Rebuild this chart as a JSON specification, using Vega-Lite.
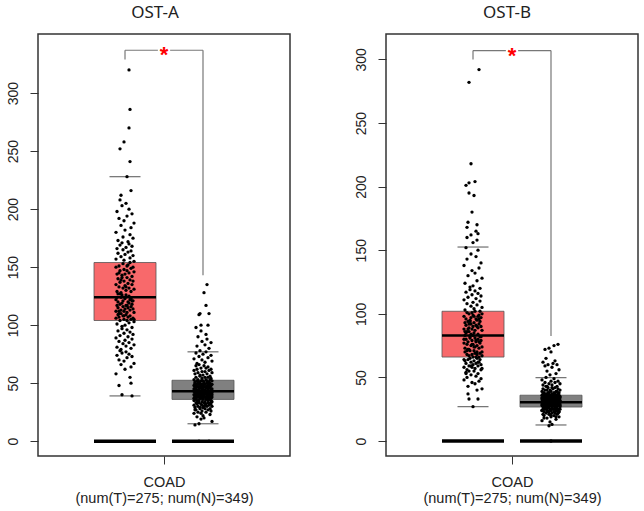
{
  "$schema": "https://vega.github.io/schema/vega-lite/v6.json",
  "padding": {"left": 5, "top": 3, "right": 5, "bottom": 5},
  "spacing": 62,
  "config": {
    "view": {"stroke": "#333333", "strokeWidth": 1.5},
    "font": "Liberation Sans",
    "title": {"font": "Noto Sans", "fontSize": 17, "fontWeight": "normal", "color": "#222222", "frame": "group", "offset": 12},
    "tick": {"opacity": 1},
    "axis": {"grid": false, "domain": false, "tickColor": "#333333", "tickSize": 8, "labelColor": "#222222", "labelFontSize": 14, "labelFont": "Liberation Sans", "titleFont": "Liberation Sans", "titleColor": "#222222"}
  },
  "datasets": {
    "boxA": [
      {"g": "T", "lo": 39, "q1": 104, "med": 124, "q3": 154, "hi": 228},
      {"g": "N", "lo": 15, "q1": 36, "med": 43, "q3": 52.5, "hi": 77}
    ],
    "boxB": [
      {"g": "T", "lo": 27, "q1": 66, "med": 83, "q3": 102, "hi": 152.5},
      {"g": "N", "lo": 12.6, "q1": 26.7, "med": 30.5, "q3": 36, "hi": 49.8}
    ],
    "sigA": [{"from": "T", "to": "N", "top": 337, "tT": 329, "tN": 143}],
    "sigB": [{"from": "T", "to": "N", "top": 307, "tT": 300, "tN": 82.5}],
    "aT": [
      {"j":7,"v":39},{"j":-3,"v":40},{"j":-6,"v":48},{"j":6,"v":50},{"j":5,"v":55},{"j":-9,"v":58},{"j":0,"v":62},{"j":6,"v":64},{"j":-4,"v":66},{"j":9,"v":67},
      {"j":-1,"v":69},{"j":-6,"v":70},{"j":2,"v":72},{"j":7,"v":73},{"j":-8,"v":74},{"j":4,"v":75},{"j":-3,"v":76},{"j":1,"v":77},{"j":-5,"v":78},{"j":-4,"v":79},
      {"j":6,"v":80},{"j":-8,"v":81},{"j":1,"v":82},{"j":9,"v":83},{"j":-2,"v":84},{"j":4,"v":85},{"j":-6,"v":86},{"j":0,"v":87},{"j":7,"v":88},{"j":-9,"v":89},
      {"j":3,"v":90},{"j":-5,"v":91},{"j":8,"v":92},{"j":-1,"v":93},{"j":5,"v":94},{"j":-7,"v":95},{"j":2,"v":96},{"j":-3,"v":97},{"j":7,"v":98},{"j":-3,"v":99},
      {"j":0,"v":100},{"j":-8,"v":101},{"j":4,"v":102},{"j":9,"v":103},{"j":-5,"v":104},
      {"j":2,"v":104},{"j":-1,"v":105},{"j":6,"v":105},{"j":-9,"v":106},{"j":8,"v":106},{"j":-6,"v":107},{"j":3,"v":107},{"j":-2,"v":108},{"j":5,"v":108},{"j":-7,"v":109},
      {"j":1,"v":109},{"j":-4,"v":110},{"j":-6,"v":110},{"j":2,"v":111},{"j":9,"v":111},{"j":-1,"v":112},{"j":-9,"v":112},{"j":5,"v":113},{"j":-4,"v":113},{"j":8,"v":114},
      {"j":0,"v":114},{"j":-7,"v":115},{"j":3,"v":115},{"j":6,"v":116},{"j":-2,"v":116},{"j":-8,"v":117},{"j":1,"v":117},{"j":7,"v":118},{"j":-5,"v":118},{"j":4,"v":119},
      {"j":-3,"v":119},{"j":3,"v":120},{"j":-7,"v":120},{"j":8,"v":121},{"j":-2,"v":121},{"j":5,"v":122},{"j":-9,"v":122},{"j":0,"v":123},{"j":6,"v":123},{"j":-4,"v":124},
      {"j":9,"v":105},{"j":-1,"v":108},{"j":-6,"v":112},{"j":2,"v":117},{"j":7,"v":121},
      {"j":-8,"v":124},{"j":4,"v":125},{"j":-3,"v":126},{"j":1,"v":126},{"j":-5,"v":127},{"j":-4,"v":128},{"j":6,"v":129},{"j":-8,"v":129},{"j":1,"v":130},{"j":9,"v":131},
      {"j":-2,"v":132},{"j":4,"v":132},{"j":-6,"v":133},{"j":0,"v":134},{"j":7,"v":135},{"j":-9,"v":135},{"j":3,"v":136},{"j":-5,"v":137},{"j":8,"v":138},{"j":-1,"v":138},
      {"j":5,"v":139},{"j":-7,"v":140},{"j":2,"v":141},{"j":-3,"v":141},{"j":7,"v":142},{"j":-3,"v":143},{"j":0,"v":144},{"j":-8,"v":144},{"j":4,"v":145},{"j":9,"v":146},
      {"j":-5,"v":147},{"j":2,"v":147},{"j":-1,"v":148},{"j":6,"v":149},{"j":-9,"v":150},{"j":8,"v":150},{"j":-6,"v":151},{"j":3,"v":152},{"j":-2,"v":153},{"j":5,"v":154},
      {"j":-7,"v":127},{"j":1,"v":133},{"j":-4,"v":139},{"j":-6,"v":145},{"j":2,"v":151},
      {"j":9,"v":155},{"j":-1,"v":156},{"j":-9,"v":157},{"j":5,"v":158},{"j":-4,"v":159},{"j":8,"v":160},{"j":0,"v":161},{"j":-7,"v":162},{"j":3,"v":163},{"j":6,"v":164},
      {"j":-2,"v":165},{"j":-8,"v":166},{"j":1,"v":167},{"j":7,"v":168},{"j":-5,"v":169},{"j":4,"v":170},{"j":-3,"v":171},{"j":3,"v":172},{"j":-7,"v":173},{"j":8,"v":175},
      {"j":-2,"v":176},{"j":5,"v":178},{"j":-9,"v":180},{"j":0,"v":182},{"j":6,"v":184},{"j":-4,"v":186},{"j":9,"v":188},{"j":-1,"v":190},{"j":-6,"v":192},{"j":2,"v":194},
      {"j":7,"v":196},{"j":-8,"v":198},{"j":4,"v":200},{"j":-3,"v":203},{"j":1,"v":205},{"j":-5,"v":208},{"j":-4,"v":212},{"j":6,"v":216},{"j":2,"v":228},
      {"j":5,"v":241},{"j":-5,"v":252},{"j":-1,"v":258},{"j":4,"v":270},{"j":5,"v":286},{"j":4,"v":320}
    ],
    "aN": [
      {"j":-4,"v":0},{"j":6,"v":0},{"j":-8,"v":14},{"j":-4,"v":15},{"j":9,"v":17},{"j":-2,"v":19},{"j":1,"v":20},{"j":-6,"v":21},{"j":0,"v":22},{"j":7,"v":23},
      {"j":-9,"v":24},{"j":3,"v":25},{"j":-5,"v":25},{"j":8,"v":26},{"j":-1,"v":26},{"j":5,"v":27},{"j":-7,"v":27},{"j":2,"v":28},{"j":-3,"v":28},{"j":7,"v":28},
      {"j":-3,"v":29},{"j":0,"v":29},{"j":-8,"v":29},{"j":4,"v":30},{"j":9,"v":30},{"j":-5,"v":30},{"j":2,"v":31},{"j":-1,"v":31},{"j":6,"v":31},{"j":-9,"v":31},
      {"j":8,"v":32},{"j":-6,"v":32},{"j":3,"v":32},{"j":-2,"v":32},{"j":5,"v":33},{"j":-7,"v":33},{"j":1,"v":33},{"j":-4,"v":33},{"j":-6,"v":34},{"j":2,"v":34},
      {"j":9,"v":34},{"j":-1,"v":34},{"j":-9,"v":35},{"j":5,"v":35},{"j":-4,"v":35},{"j":8,"v":35},{"j":0,"v":36},{"j":-7,"v":36},{"j":3,"v":36},{"j":6,"v":36},
      {"j":-2,"v":24},{"j":-8,"v":27},{"j":1,"v":30},{"j":7,"v":33},{"j":-5,"v":35},
      {"j":4,"v":37},{"j":-3,"v":37},{"j":3,"v":37},{"j":-7,"v":37},{"j":8,"v":37},{"j":-2,"v":37},{"j":5,"v":37},{"j":-9,"v":37},
      {"j":0,"v":38},{"j":6,"v":38},{"j":-4,"v":38},{"j":9,"v":38},{"j":-1,"v":38},{"j":-6,"v":38},{"j":2,"v":38},{"j":7,"v":38},
      {"j":-8,"v":39},{"j":4,"v":39},{"j":-3,"v":39},{"j":1,"v":39},{"j":-5,"v":39},{"j":-4,"v":39},{"j":6,"v":39},{"j":-8,"v":39},
      {"j":1,"v":40},{"j":9,"v":40},{"j":-2,"v":40},{"j":4,"v":40},{"j":-6,"v":40},{"j":0,"v":40},{"j":7,"v":40},{"j":-9,"v":40},
      {"j":3,"v":41},{"j":-5,"v":41},{"j":8,"v":41},{"j":-1,"v":41},{"j":5,"v":41},{"j":-7,"v":41},{"j":2,"v":41},{"j":-3,"v":41},
      {"j":7,"v":42},{"j":-3,"v":42},{"j":0,"v":42},{"j":-8,"v":42},{"j":4,"v":42},{"j":9,"v":42},{"j":-5,"v":42},{"j":2,"v":42},
      {"j":-1,"v":43},{"j":6,"v":43},{"j":-9,"v":43},{"j":8,"v":43},{"j":-6,"v":43},{"j":3,"v":43},{"j":-2,"v":43},
      {"j":5,"v":44},{"j":-7,"v":44},{"j":1,"v":44},{"j":-4,"v":44},{"j":-6,"v":44},{"j":2,"v":44},
      {"j":9,"v":45},{"j":-1,"v":45},{"j":-9,"v":45},{"j":5,"v":45},{"j":-4,"v":45},{"j":8,"v":45},
      {"j":0,"v":46},{"j":-7,"v":46},{"j":3,"v":46},{"j":6,"v":46},{"j":-2,"v":46},{"j":-8,"v":46},
      {"j":1,"v":47},{"j":7,"v":47},{"j":-5,"v":47},{"j":4,"v":47},{"j":-3,"v":47},{"j":3,"v":47},
      {"j":-7,"v":48},{"j":8,"v":48},{"j":-2,"v":48},{"j":5,"v":48},{"j":-9,"v":48},{"j":0,"v":48},
      {"j":6,"v":49},{"j":-4,"v":49},{"j":9,"v":49},{"j":-1,"v":49},{"j":-6,"v":49},{"j":2,"v":49},
      {"j":7,"v":50},{"j":-8,"v":50},{"j":4,"v":50},{"j":-3,"v":50},{"j":1,"v":50},
      {"j":-5,"v":51},{"j":-4,"v":51},{"j":6,"v":51},{"j":-8,"v":51},{"j":1,"v":51},
      {"j":9,"v":52},{"j":-2,"v":52},{"j":4,"v":52},{"j":-6,"v":52},{"j":0,"v":52},
      {"j":7,"v":53},{"j":-9,"v":53},{"j":3,"v":53},{"j":-5,"v":53},
      {"j":8,"v":54},{"j":-1,"v":54},{"j":5,"v":55},{"j":-7,"v":55},{"j":2,"v":55},{"j":-3,"v":56},{"j":7,"v":56},{"j":-3,"v":57},{"j":0,"v":57},{"j":-8,"v":58},
      {"j":4,"v":58},{"j":9,"v":59},{"j":-5,"v":59},{"j":2,"v":60},{"j":-1,"v":60},{"j":6,"v":61},{"j":-9,"v":61},{"j":8,"v":62},{"j":-6,"v":62},{"j":3,"v":63},
      {"j":-2,"v":63},{"j":5,"v":64},{"j":-7,"v":65},{"j":1,"v":65},{"j":-4,"v":66},{"j":-6,"v":67},{"j":2,"v":68},{"j":9,"v":69},{"j":-1,"v":70},{"j":-9,"v":71},
      {"j":5,"v":72},{"j":-4,"v":73},{"j":8,"v":74},{"j":0,"v":75},{"j":-7,"v":76},{"j":3,"v":77},
      {"j":-3,"v":78},{"j":6,"v":80},{"j":-6,"v":82},{"j":2,"v":83},{"j":8,"v":85},{"j":-1,"v":86},{"j":4,"v":88},{"j":-5,"v":90},{"j":3,"v":92},{"j":-2,"v":95},
      {"j":-7,"v":98},{"j":-2,"v":100},{"j":5,"v":100},{"j":-4,"v":109},{"j":6,"v":110},{"j":-3,"v":110},{"j":3,"v":117},{"j":1,"v":128},{"j":4,"v":135}
    ],
    "bT": [
      {"j":0,"v":27},{"j":-4,"v":33},{"j":5,"v":33},{"j":-5,"v":37},{"j":4,"v":40},{"j":9,"v":41},{"j":-5,"v":43},{"j":2,"v":45},{"j":-1,"v":46},{"j":6,"v":47},
      {"j":-9,"v":48},{"j":8,"v":49},{"j":-6,"v":50},{"j":3,"v":51},{"j":-2,"v":52},{"j":5,"v":53},{"j":-7,"v":54},{"j":1,"v":55},{"j":-4,"v":55},{"j":-6,"v":56},
      {"j":2,"v":57},{"j":9,"v":57},{"j":-1,"v":58},{"j":-9,"v":58},{"j":5,"v":59},{"j":-4,"v":59},{"j":8,"v":60},{"j":0,"v":60},{"j":-7,"v":61},{"j":3,"v":61},
      {"j":6,"v":62},{"j":-2,"v":62},{"j":-8,"v":63},{"j":1,"v":63},{"j":7,"v":64},{"j":-5,"v":64},{"j":4,"v":65},{"j":-3,"v":65},{"j":3,"v":66},{"j":-7,"v":53},
      {"j":8,"v":56},{"j":-2,"v":59},{"j":5,"v":62},{"j":-9,"v":64},{"j":0,"v":66},
      {"j":6,"v":66},{"j":-4,"v":67},{"j":9,"v":67},{"j":-1,"v":68},{"j":-6,"v":68},{"j":2,"v":69},{"j":7,"v":69},{"j":-8,"v":70},{"j":4,"v":70},{"j":-3,"v":71},
      {"j":1,"v":71},{"j":-5,"v":72},{"j":-4,"v":72},{"j":6,"v":73},{"j":-8,"v":73},{"j":1,"v":74},{"j":9,"v":74},{"j":-2,"v":75},{"j":4,"v":75},{"j":-6,"v":76},
      {"j":0,"v":76},{"j":7,"v":77},{"j":-9,"v":77},{"j":3,"v":78},{"j":-5,"v":78},{"j":8,"v":79},{"j":-1,"v":79},{"j":5,"v":80},{"j":-7,"v":80},{"j":2,"v":81},
      {"j":-3,"v":81},{"j":7,"v":82},{"j":-3,"v":82},{"j":0,"v":83},{"j":-8,"v":83},{"j":4,"v":68},{"j":9,"v":70},{"j":-5,"v":72},{"j":2,"v":74},{"j":-1,"v":76},
      {"j":6,"v":78},{"j":-9,"v":80},{"j":8,"v":82},{"j":-6,"v":71},{"j":3,"v":79},
      {"j":-2,"v":84},{"j":5,"v":84},{"j":-7,"v":85},{"j":1,"v":85},{"j":-4,"v":86},{"j":-6,"v":86},{"j":2,"v":87},{"j":9,"v":87},{"j":-1,"v":88},{"j":-9,"v":88},
      {"j":5,"v":89},{"j":-4,"v":89},{"j":8,"v":90},{"j":0,"v":90},{"j":-7,"v":91},{"j":3,"v":91},{"j":6,"v":92},{"j":-2,"v":92},{"j":-8,"v":93},{"j":1,"v":93},
      {"j":7,"v":94},{"j":-5,"v":94},{"j":4,"v":95},{"j":-3,"v":95},{"j":3,"v":96},{"j":-7,"v":96},{"j":8,"v":97},{"j":-2,"v":97},{"j":5,"v":98},{"j":-9,"v":98},
      {"j":0,"v":99},{"j":6,"v":99},{"j":-4,"v":100},{"j":9,"v":100},{"j":-1,"v":101},{"j":-6,"v":101},{"j":2,"v":102},{"j":7,"v":102},{"j":-8,"v":86},{"j":4,"v":90},
      {"j":-3,"v":94},{"j":1,"v":98},{"j":-5,"v":88},{"j":-4,"v":92},{"j":6,"v":96},
      {"j":-8,"v":103},{"j":1,"v":104},{"j":9,"v":105},{"j":-2,"v":106},{"j":4,"v":107},{"j":-6,"v":108},{"j":0,"v":109},{"j":7,"v":110},{"j":-9,"v":111},{"j":3,"v":112},
      {"j":-5,"v":113},{"j":8,"v":114},{"j":-1,"v":115},{"j":5,"v":116},{"j":-7,"v":117},{"j":2,"v":118},{"j":-3,"v":119},{"j":7,"v":120},{"j":-3,"v":121},{"j":0,"v":122},
      {"j":-8,"v":124},{"j":4,"v":126},{"j":9,"v":128},{"j":-5,"v":130},{"j":2,"v":132},{"j":-1,"v":134},{"j":6,"v":136},{"j":-9,"v":138},{"j":8,"v":140},{"j":-6,"v":143},
      {"j":3,"v":145},{"j":-2,"v":147},{"j":5,"v":150},{"j":-7,"v":152},
      {"j":0,"v":156},{"j":4,"v":158},{"j":-6,"v":160},{"j":-2,"v":162},{"j":5,"v":163},{"j":3,"v":165},{"j":-6,"v":168},{"j":4,"v":170},{"j":-5,"v":172},{"j":-1,"v":180},
      {"j":1,"v":193},{"j":-4,"v":195},{"j":-7,"v":201},{"j":-4,"v":203},{"j":2,"v":204},{"j":-2,"v":218},{"j":-4,"v":282},{"j":6,"v":292}
    ],
    "bN": [
      {"j":0,"v":0},{"j":-2,"v":12},{"j":1,"v":13},{"j":-1,"v":15},{"j":-9,"v":16},{"j":5,"v":17},{"j":-4,"v":18},{"j":8,"v":19},{"j":0,"v":19},{"j":-7,"v":20},
      {"j":3,"v":20},{"j":6,"v":21},{"j":-2,"v":21},{"j":-8,"v":21},{"j":1,"v":22},{"j":7,"v":22},{"j":-5,"v":22},{"j":4,"v":22},{"j":-3,"v":23},{"j":3,"v":23},
      {"j":-7,"v":23},{"j":8,"v":23},{"j":-2,"v":23},{"j":5,"v":24},{"j":-9,"v":24},{"j":0,"v":24},{"j":6,"v":24},{"j":-4,"v":24},{"j":9,"v":25},{"j":-1,"v":25},
      {"j":-6,"v":25},{"j":2,"v":25},{"j":7,"v":25},{"j":-8,"v":25},{"j":4,"v":26},{"j":-3,"v":26},{"j":1,"v":26},{"j":-5,"v":26},{"j":-4,"v":26},{"j":6,"v":26},
      {"j":-8,"v":27},{"j":1,"v":27},{"j":9,"v":27},{"j":-2,"v":27},{"j":4,"v":27},{"j":-6,"v":27},{"j":0,"v":20},{"j":7,"v":22},{"j":-9,"v":24},{"j":3,"v":25},
      {"j":-5,"v":26},{"j":8,"v":23},{"j":-1,"v":21},{"j":5,"v":19},{"j":-7,"v":18},
      {"j":2,"v":28},{"j":-3,"v":28},{"j":7,"v":28},{"j":-3,"v":28},{"j":0,"v":28},{"j":-8,"v":28},{"j":4,"v":28},{"j":9,"v":28},{"j":-5,"v":28},{"j":2,"v":28},{"j":-1,"v":28},{"j":6,"v":28},{"j":-9,"v":28},{"j":8,"v":28},
      {"j":-6,"v":29},{"j":3,"v":29},{"j":-2,"v":29},{"j":5,"v":29},{"j":-7,"v":29},{"j":1,"v":29},{"j":-4,"v":29},{"j":-6,"v":29},{"j":2,"v":29},{"j":9,"v":29},{"j":-1,"v":29},{"j":-9,"v":29},{"j":5,"v":29},{"j":-4,"v":29},
      {"j":8,"v":30},{"j":0,"v":30},{"j":-7,"v":30},{"j":3,"v":30},{"j":6,"v":30},{"j":-2,"v":30},{"j":-8,"v":30},{"j":1,"v":30},{"j":7,"v":30},{"j":-5,"v":30},{"j":4,"v":30},{"j":-3,"v":30},{"j":3,"v":30},{"j":-7,"v":30},
      {"j":8,"v":31},{"j":-2,"v":31},{"j":5,"v":31},{"j":-9,"v":31},{"j":0,"v":31},{"j":6,"v":31},{"j":-4,"v":31},{"j":9,"v":31},{"j":-1,"v":31},{"j":-6,"v":31},{"j":2,"v":31},{"j":7,"v":31},{"j":-8,"v":31},
      {"j":4,"v":32},{"j":-3,"v":32},{"j":1,"v":32},{"j":-5,"v":32},{"j":-4,"v":32},{"j":6,"v":32},{"j":-8,"v":32},{"j":1,"v":32},{"j":9,"v":32},{"j":-2,"v":32},{"j":4,"v":32},{"j":-6,"v":32},
      {"j":0,"v":33},{"j":7,"v":33},{"j":-9,"v":33},{"j":3,"v":33},{"j":-5,"v":33},{"j":8,"v":33},{"j":-1,"v":33},{"j":5,"v":33},{"j":-7,"v":33},{"j":2,"v":33},{"j":-3,"v":33},
      {"j":7,"v":34},{"j":-3,"v":34},{"j":0,"v":34},{"j":-8,"v":34},{"j":4,"v":34},{"j":9,"v":34},{"j":-5,"v":34},{"j":2,"v":34},{"j":-1,"v":34},{"j":6,"v":34},{"j":-9,"v":34},
      {"j":8,"v":35},{"j":-6,"v":35},{"j":3,"v":35},{"j":-2,"v":35},{"j":5,"v":35},{"j":-7,"v":35},{"j":1,"v":35},{"j":-4,"v":35},{"j":-6,"v":35},{"j":2,"v":35},{"j":9,"v":35},
      {"j":-1,"v":36},{"j":-9,"v":36},{"j":5,"v":36},{"j":-4,"v":36},{"j":8,"v":36},{"j":0,"v":36},{"j":-7,"v":36},{"j":3,"v":36},{"j":6,"v":36},{"j":-2,"v":36},
      {"j":-8,"v":37},{"j":1,"v":37},{"j":7,"v":37},{"j":-5,"v":37},{"j":4,"v":37},
      {"j":-3,"v":38},{"j":3,"v":38},{"j":-7,"v":38},{"j":8,"v":38},{"j":-2,"v":38},
      {"j":5,"v":39},{"j":-9,"v":39},{"j":0,"v":39},{"j":6,"v":39},
      {"j":-4,"v":40},{"j":9,"v":40},{"j":-1,"v":40},{"j":-6,"v":40},
      {"j":2,"v":41},{"j":7,"v":41},{"j":-8,"v":41},
      {"j":4,"v":42},{"j":-3,"v":42},{"j":1,"v":42},
      {"j":-5,"v":43},{"j":-4,"v":43},{"j":6,"v":43},
      {"j":-8,"v":44},{"j":1,"v":44},{"j":9,"v":45},{"j":-2,"v":45},{"j":4,"v":46},{"j":-6,"v":46},{"j":0,"v":47},{"j":7,"v":47},
      {"j":-9,"v":48},{"j":3,"v":49},{"j":-5,"v":50},
      {"j":-1,"v":52},{"j":5,"v":53},{"j":-4,"v":55},{"j":8,"v":56},{"j":1,"v":58},{"j":-6,"v":59},{"j":-3,"v":60},{"j":6,"v":60},{"j":2,"v":61},{"j":-8,"v":62},
      {"j":4,"v":63},{"j":-5,"v":65},{"j":0,"v":70},{"j":-6,"v":72},{"j":-2,"v":73},{"j":3,"v":75},{"j":7,"v":76}
    ]
  },
  "hconcat": [
    {
      "width": 252,
      "height": 422,
      "title": {"text": "OST-A", "dx": -9},
      "layer": [
        {
          "data": {"name": "boxA"},
          "mark": {"type": "bar", "stroke": "#555555", "strokeWidth": 0.8},
          "encoding": {
            "x": {
              "field": "g", "type": "nominal", "bandPosition": 0,
              "scale": {"domain": ["T", "N"], "paddingInner": 0.205, "paddingOuter": 0.718},
              "axis": {"values": ["T"], "bandPosition": 1.129, "labels": false, "title": ["COAD", "(num(T)=275; num(N)=349)"], "titleFontSize": 14.5, "titleFontWeight": "normal", "titleLineHeight": 16, "titlePadding": 11}
            },
            "x2": {"field": "g", "bandPosition": 1},
            "y": {
              "field": "q1", "type": "quantitative",
              "scale": {"domain": [-12.8, 351], "nice": false, "zero": false},
              "axis": {"values": [0, 50, 100, 150, 200, 250, 300], "labelAngle": 270, "labelAlign": "center", "labelBaseline": "bottom", "labelPadding": 10, "title": null}
            },
            "y2": {"field": "q3"},
            "color": {"field": "g", "type": "nominal", "scale": {"domain": ["T", "N"], "range": ["#F8696B", "#808080"]}, "legend": null}
          }
        },
        {
          "data": {"name": "boxA"},
          "mark": {"type": "tick", "color": "#6f6f6f", "size": 31, "thickness": 1.2},
          "encoding": {"x": {"field": "g", "type": "nominal"}, "y": {"field": "hi", "type": "quantitative"}}
        },
        {
          "data": {"name": "boxA"},
          "mark": {"type": "tick", "color": "#6f6f6f", "size": 31, "thickness": 1.2},
          "encoding": {"x": {"field": "g", "type": "nominal"}, "y": {"field": "lo", "type": "quantitative"}}
        },
        {
          "data": {"name": "boxA"},
          "mark": {"type": "tick", "color": "#000000", "size": 62, "thickness": 2.5},
          "encoding": {"x": {"field": "g", "type": "nominal"}, "y": {"field": "med", "type": "quantitative"}}
        },
        {
          "data": {"name": "boxA"},
          "mark": {"type": "tick", "color": "#000000", "size": 62, "thickness": 3.5},
          "encoding": {"x": {"field": "g", "type": "nominal"}, "y": {"datum": 0}}
        },
        {
          "data": {"name": "aT"},
          "mark": {"type": "circle", "color": "#000000", "size": 11, "opacity": 1},
          "encoding": {
            "x": {"datum": "T", "type": "nominal"},
            "xOffset": {"field": "j", "type": "quantitative", "scale": {"domain": [-31, 31]}},
            "y": {"field": "v", "type": "quantitative"}
          }
        },
        {
          "data": {"name": "aN"},
          "mark": {"type": "circle", "color": "#000000", "size": 11, "opacity": 1},
          "encoding": {
            "x": {"datum": "N", "type": "nominal"},
            "xOffset": {"field": "j", "type": "quantitative", "scale": {"domain": [-31, 31]}},
            "y": {"field": "v", "type": "quantitative"}
          }
        },
        {
          "data": {"name": "sigA"},
          "mark": {"type": "rule", "color": "#777777", "strokeWidth": 1.2},
          "encoding": {"x": {"field": "from", "type": "nominal"}, "x2": {"field": "to"}, "y": {"field": "top", "type": "quantitative"}}
        },
        {
          "data": {"name": "sigA"},
          "mark": {"type": "rule", "color": "#777777", "strokeWidth": 1.2},
          "encoding": {"x": {"field": "from", "type": "nominal"}, "y": {"field": "tT", "type": "quantitative"}, "y2": {"field": "top"}}
        },
        {
          "data": {"name": "sigA"},
          "mark": {"type": "rule", "color": "#777777", "strokeWidth": 1.2},
          "encoding": {"x": {"field": "to", "type": "nominal"}, "y": {"field": "tN", "type": "quantitative"}, "y2": {"field": "top"}}
        },
        {
          "data": {"name": "sigA"},
          "mark": {"type": "point", "shape": "square", "filled": true, "color": "#ffffff", "opacity": 1, "size": 150},
          "encoding": {"x": {"field": "from", "type": "nominal", "bandPosition": 1.129}, "y": {"field": "top", "type": "quantitative"}}
        },
        {
          "data": {"name": "sigA"},
          "mark": {"type": "text", "text": "*", "color": "#ff0000", "fontSize": 22, "fontWeight": "bold", "baseline": "middle", "align": "center", "dy": 5},
          "encoding": {"x": {"field": "from", "type": "nominal", "bandPosition": 1.129}, "y": {"field": "top", "type": "quantitative"}}
        }
      ]
    },
    {
      "width": 252,
      "height": 422,
      "title": {"text": "OST-B", "dx": -5},
      "layer": [
        {
          "data": {"name": "boxB"},
          "mark": {"type": "bar", "stroke": "#555555", "strokeWidth": 0.8},
          "encoding": {
            "x": {
              "field": "g", "type": "nominal", "bandPosition": 0,
              "scale": {"domain": ["T", "N"], "paddingInner": 0.205, "paddingOuter": 0.718},
              "axis": {"values": ["T"], "bandPosition": 1.129, "labels": false, "title": ["COAD", "(num(T)=275; num(N)=349)"], "titleFontSize": 14.5, "titleFontWeight": "normal", "titleLineHeight": 16, "titlePadding": 11}
            },
            "x2": {"field": "g", "bandPosition": 1},
            "y": {
              "field": "q1", "type": "quantitative",
              "scale": {"domain": [-11.8, 320], "nice": false, "zero": false},
              "axis": {"values": [0, 50, 100, 150, 200, 250, 300], "labelAngle": 270, "labelAlign": "center", "labelBaseline": "bottom", "labelPadding": 10, "title": null}
            },
            "y2": {"field": "q3"},
            "color": {"field": "g", "type": "nominal", "scale": {"domain": ["T", "N"], "range": ["#F8696B", "#808080"]}, "legend": null}
          }
        },
        {
          "data": {"name": "boxB"},
          "mark": {"type": "tick", "color": "#6f6f6f", "size": 31, "thickness": 1.2},
          "encoding": {"x": {"field": "g", "type": "nominal"}, "y": {"field": "hi", "type": "quantitative"}}
        },
        {
          "data": {"name": "boxB"},
          "mark": {"type": "tick", "color": "#6f6f6f", "size": 31, "thickness": 1.2},
          "encoding": {"x": {"field": "g", "type": "nominal"}, "y": {"field": "lo", "type": "quantitative"}}
        },
        {
          "data": {"name": "boxB"},
          "mark": {"type": "tick", "color": "#000000", "size": 62, "thickness": 2.5},
          "encoding": {"x": {"field": "g", "type": "nominal"}, "y": {"field": "med", "type": "quantitative"}}
        },
        {
          "data": {"name": "boxB"},
          "mark": {"type": "tick", "color": "#000000", "size": 62, "thickness": 3.5},
          "encoding": {"x": {"field": "g", "type": "nominal"}, "y": {"datum": 0}}
        },
        {
          "data": {"name": "bT"},
          "mark": {"type": "circle", "color": "#000000", "size": 11, "opacity": 1},
          "encoding": {
            "x": {"datum": "T", "type": "nominal"},
            "xOffset": {"field": "j", "type": "quantitative", "scale": {"domain": [-31, 31]}},
            "y": {"field": "v", "type": "quantitative"}
          }
        },
        {
          "data": {"name": "bN"},
          "mark": {"type": "circle", "color": "#000000", "size": 11, "opacity": 1},
          "encoding": {
            "x": {"datum": "N", "type": "nominal"},
            "xOffset": {"field": "j", "type": "quantitative", "scale": {"domain": [-31, 31]}},
            "y": {"field": "v", "type": "quantitative"}
          }
        },
        {
          "data": {"name": "sigB"},
          "mark": {"type": "rule", "color": "#777777", "strokeWidth": 1.2},
          "encoding": {"x": {"field": "from", "type": "nominal"}, "x2": {"field": "to"}, "y": {"field": "top", "type": "quantitative"}}
        },
        {
          "data": {"name": "sigB"},
          "mark": {"type": "rule", "color": "#777777", "strokeWidth": 1.2},
          "encoding": {"x": {"field": "from", "type": "nominal"}, "y": {"field": "tT", "type": "quantitative"}, "y2": {"field": "top"}}
        },
        {
          "data": {"name": "sigB"},
          "mark": {"type": "rule", "color": "#777777", "strokeWidth": 1.2},
          "encoding": {"x": {"field": "to", "type": "nominal"}, "y": {"field": "tN", "type": "quantitative"}, "y2": {"field": "top"}}
        },
        {
          "data": {"name": "sigB"},
          "mark": {"type": "point", "shape": "square", "filled": true, "color": "#ffffff", "opacity": 1, "size": 150},
          "encoding": {"x": {"field": "from", "type": "nominal", "bandPosition": 1.129}, "y": {"field": "top", "type": "quantitative"}}
        },
        {
          "data": {"name": "sigB"},
          "mark": {"type": "text", "text": "*", "color": "#ff0000", "fontSize": 22, "fontWeight": "bold", "baseline": "middle", "align": "center", "dy": 5},
          "encoding": {"x": {"field": "from", "type": "nominal", "bandPosition": 1.129}, "y": {"field": "top", "type": "quantitative"}}
        }
      ]
    }
  ]
}
